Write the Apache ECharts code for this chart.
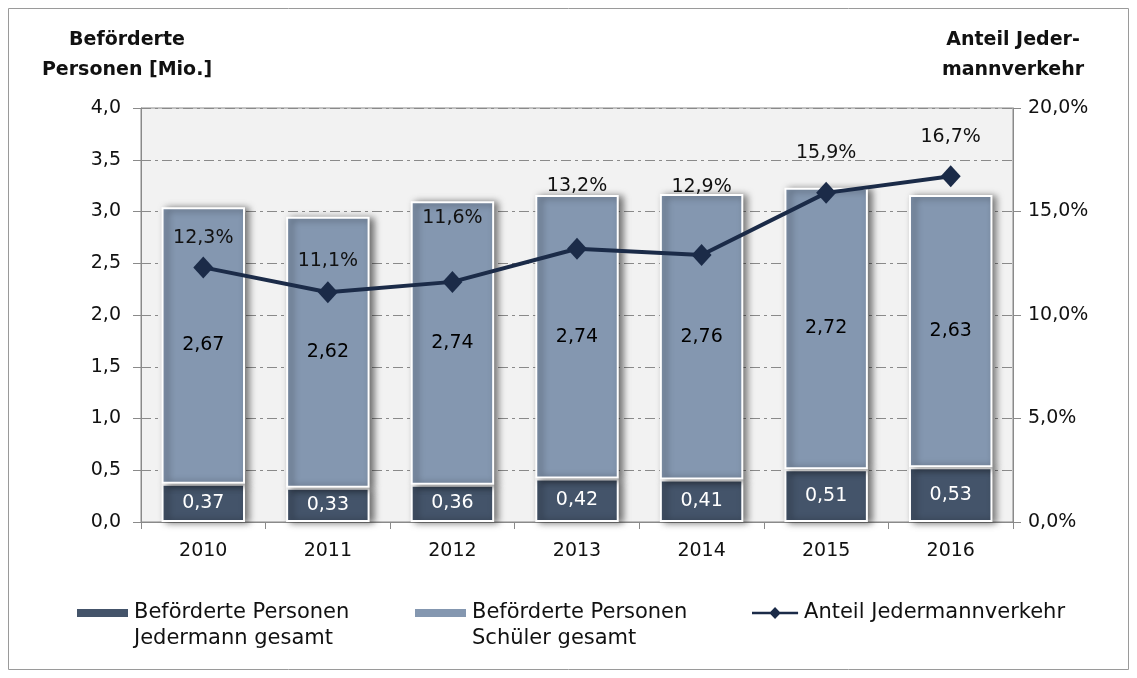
<!DOCTYPE html>
<html><head><meta charset="utf-8">
<script src="https://cdn.jsdelivr.net/npm/echarts@6/dist/echarts.min.js"></script>
<style>html,body{margin:0;padding:0;background:#fff}#c{width:1137px;height:678px}</style>
</head><body><div id="c"></div>
<script>
const years = ['2010','2011','2012','2013','2014','2015','2016'];
const jedermann = [0.37,0.33,0.36,0.42,0.41,0.51,0.53];
const schueler = [2.67,2.62,2.74,2.74,2.76,2.72,2.63];
const anteil = [12.3,11.1,11.6,13.2,12.9,15.9,16.7];
const seriesNames = ['Beförderte Personen\nJedermann gesamt','Beförderte Personen\nSchüler gesamt','Anteil Jedermannverkehr'];
const leftTitle = 'Beförderte\nPersonen [Mio.]';
const rightTitle = 'Anteil Jeder-\nmannverkehr';

const FONT = '"DejaVu Sans",sans-serif';
const de = (v, d) => v.toFixed(d).replace('.', ',');
const chart = echarts.init(document.getElementById('c'));
const shadow = {shadowColor:'rgba(0,0,0,0.55)', shadowBlur:7, shadowOffsetX:4, shadowOffsetY:1};
const gridLine = {show:true, lineStyle:{color:'#8a8a8a', type:[10,4,3,4], width:1}};
const legendText = {fontFamily:FONT, fontSize:21, color:'#111', lineHeight:26};
// label placement style (as in the original, labels were hand-placed)
const labelGap = [9, 11, 43, 42, 47, 19, 19];
function legendAt(i, left, extra) {
  return Object.assign({top:569, left:left, itemGap:0, itemWidth:53, itemHeight:10, icon:'rect',
    data:[{name:seriesNames[i]}], textStyle:legendText,
    formatter:n => n.indexOf('\n') >= 0 ? ' \n' + n : n}, extra || {});
}
chart.setOption({
  backgroundColor:'#fff',
  textStyle:{fontFamily:FONT},
  animation:false,
  graphic:[{type:'rect', shape:{x:8.5,y:8.5,width:1120,height:661}, style:{fill:'none', stroke:'#9a9a9a', lineWidth:1}, z:-10}],
  title:[
    {text:leftTitle, left:122, top:20, textAlign:'center', textStyle:{fontFamily:FONT, fontSize:19, fontWeight:'bold', color:'#111', lineHeight:30}},
    {text:rightTitle, left:1008, top:20, textAlign:'center', textStyle:{fontFamily:FONT, fontSize:19, fontWeight:'bold', color:'#111', lineHeight:30}}
  ],
  grid:{left:141, right:124, top:108, bottom:156, show:true, backgroundColor:'#f2f2f2', borderColor:'#8a8a8a', borderWidth:1},
  legend:[
    legendAt(0, 70),
    legendAt(1, 408),
    legendAt(2, 747, {top:595, itemWidth:48, itemHeight:12,
      data:[{name:seriesNames[2], icon:'path://M0,5 L48,5 L48,7.5 L0,7.5 Z M24,0 L30,6.25 L24,12.5 L18,6.25 Z'}]})
  ],
  xAxis:{type:'category', data:years, boundaryGap:true,
    axisLine:{lineStyle:{color:'#8a8a8a'}},
    axisTick:{show:true, length:7, lineStyle:{color:'#8a8a8a'}},
    axisLabel:{fontFamily:FONT, fontSize:19, color:'#111', margin:20}},
  yAxis:[
    {type:'value', min:0, max:4, interval:0.5,
     axisLine:{show:true, lineStyle:{color:'#8a8a8a'}},
     axisTick:{show:true, length:8, lineStyle:{color:'#8a8a8a'}},
     axisLabel:{fontFamily:FONT, fontSize:19, color:'#111', margin:20, formatter:v=>de(v,1)},
     splitLine:gridLine},
    {type:'value', min:0, max:20, interval:5, position:'right',
     axisLine:{show:true, lineStyle:{color:'#8a8a8a'}},
     axisTick:{show:true, length:8, lineStyle:{color:'#8a8a8a'}},
     axisLabel:{fontFamily:FONT, fontSize:19, color:'#111', margin:15, formatter:v=>de(v,1)+'%'},
     splitLine:gridLine}
  ],
  series:[
    {name:seriesNames[0], type:'bar', stack:'a', data:jedermann, barWidth:'67%',
     itemStyle:Object.assign({color:'#44546a', borderColor:'#fff', borderWidth:2}, shadow),
     label:{show:true, position:'inside', color:'#fff', fontFamily:FONT, fontSize:19, formatter:p=>de(p.value,2)}},
    {name:seriesNames[1], type:'bar', stack:'a', data:schueler, barWidth:'67%',
     itemStyle:Object.assign({color:'#8497b0', borderColor:'#fff', borderWidth:2}, shadow),
     label:{show:true, position:'inside', color:'#000', fontFamily:FONT, fontSize:19, formatter:p=>de(p.value,2)}},
    {name:seriesNames[2], type:'line', yAxisIndex:1,
     data:anteil.map((v,i)=>({value:v, label:{distance:labelGap[i]}})),
     symbol:'diamond', symbolSize:[20,22],
     lineStyle:{color:'#1b2b48', width:4}, itemStyle:{color:'#1b2b48'},
     label:{show:true, position:'top', color:'#111', fontFamily:FONT, fontSize:19, formatter:p=>de(p.value,1)+'%'},
     z:5}
  ]
});
</script></body></html>
